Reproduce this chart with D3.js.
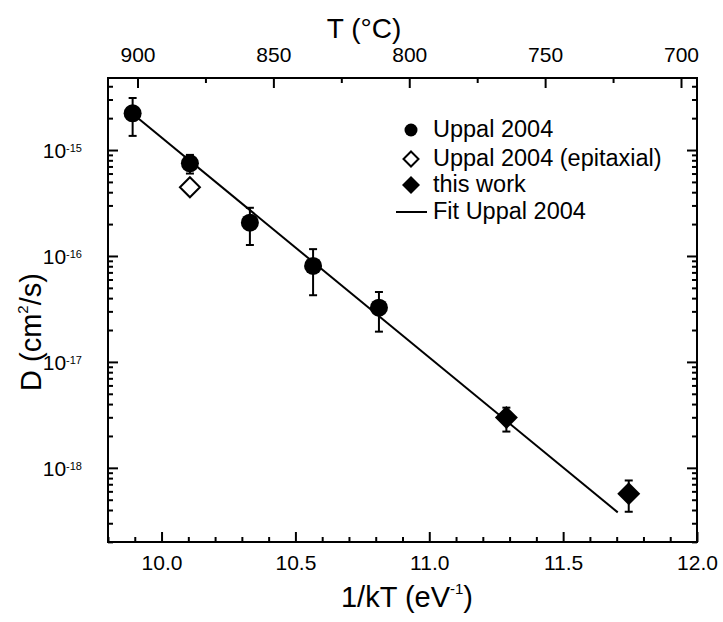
<!DOCTYPE html>
<html>
<head>
<meta charset="utf-8">
<script src="https://cdn.jsdelivr.net/npm/d3@7"></script>
<style>
  body { margin: 0; background: #fff; }
  svg text { font-family: "Liberation Sans", Arial, sans-serif; fill: #000; }
</style>
</head>
<body>
<div id="chart"></div>
<script>
// Uppal 2004 (filled circles), with error bars
const uppalX  = [9.892, 10.106, 10.33, 10.566, 10.812];
const uppalD  = [2.22e-15, 7.5e-16, 2.06e-16, 8.05e-17, 3.25e-17];
const uppalLo = [1.36e-15, 6.0e-16, 1.27e-16, 4.26e-17, 1.93e-17];
const uppalHi = [3.1e-15, 9.0e-16, 2.85e-16, 1.16e-16, 4.57e-17];

// Uppal 2004 epitaxial (open diamond)
const epiX = [10.106];
const epiD = [4.45e-16];

// this work (filled diamonds), with error bars
const workX  = [11.288, 11.745];
const workD  = [2.98e-18, 5.69e-19];
const workLo = [2.2e-18, 3.85e-19];
const workHi = [3.7e-18, 7.6e-19];

// fit of Uppal 2004
const fitX = [9.892, 11.704];
const fitD = [2.2e-15, 3.8e-19];

const xMajor = [10.0, 10.5, 11.0, 11.5, 12.0];
const yMajor = [1e-18, 1e-17, 1e-16, 1e-15];
const yExp = {"1e-18": -18, "1e-17": -17, "1e-16": -16, "1e-15": -15};
const tMajor = [900, 850, 800, 750, 700];
const tMinor = [875, 825, 775, 725];

const legendNames = ["Uppal 2004", "Uppal 2004 (epitaxial)", "this work", "Fit Uppal 2004"];

const width = 723, height = 622;
const plotLeft = 108, plotRight = 697, plotTop = 78, plotBottom = 542;

const svg = d3.select("#chart").append("svg")
    .attr("width", width)
    .attr("height", height);

const x = d3.scaleLinear().domain([9.8, 12.0]).range([plotLeft, plotRight]);
const y = d3.scaleLog().domain([Math.pow(10, -18.7), Math.pow(10, -14.32)]).range([plotBottom, plotTop]);
// the temperature axis on top is linear in T, as in the original
const t = d3.scaleLinear().domain([900, 700]).range([137.5, 681]);

// minor tick values
const xMinor = d3.range(98, 121).map(v => v / 10).filter(v => Math.abs(v * 2 - Math.round(v * 2)) > 1e-6);
const yMinor = [];
[-19, -18, -17, -16, -15].forEach(e => {
    for (let m = 2; m < 10; m++) {
        const v = m * Math.pow(10, e);
        if (v >= y.domain()[0] && v <= y.domain()[1]) yMinor.push(v);
    }
});

function styleAxis(g) {
    g.select(".domain").remove();
    g.selectAll(".tick line").attr("stroke", "#000").attr("stroke-width", 2);
}

// bottom axis
svg.append("g")
    .attr("transform", "translate(0," + plotBottom + ")")
    .call(d3.axisBottom(x).tickValues(xMinor).tickSize(-5).tickFormat(""))
    .call(styleAxis);
const gx = svg.append("g")
    .attr("transform", "translate(0," + plotBottom + ")")
    .call(d3.axisBottom(x).tickValues(xMajor).tickSize(-10).tickPadding(13).tickFormat(d3.format(".1f")))
    .call(styleAxis);
gx.selectAll(".tick text").attr("font-size", 21);

// top axis (temperature)
svg.append("g")
    .attr("transform", "translate(0," + plotTop + ")")
    .call(d3.axisTop(t).tickValues(tMinor).tickSize(-5).tickFormat(""))
    .call(styleAxis);
const gt = svg.append("g")
    .attr("transform", "translate(0," + plotTop + ")")
    .call(d3.axisTop(t).tickValues(tMajor).tickSize(-10).tickPadding(16).tickFormat(d3.format("d")))
    .call(styleAxis);
gt.selectAll(".tick text").attr("font-size", 21);

// left axis
svg.append("g")
    .attr("transform", "translate(" + plotLeft + ",0)")
    .call(d3.axisLeft(y).tickValues(yMinor).tickSize(-5).tickFormat(""))
    .call(styleAxis);
const gy = svg.append("g")
    .attr("transform", "translate(" + plotLeft + ",0)")
    .call(d3.axisLeft(y).tickValues(yMajor).tickSize(-10).tickPadding(26).tickFormat(""))
    .call(styleAxis);
gy.selectAll(".tick text").each(function(d) {
    const txt = d3.select(this)
        .attr("font-size", 21)
        .attr("dy", "0.36em");
    txt.append("tspan").text("10");
    txt.append("tspan").attr("font-size", 11).attr("dy", "-0.55em").text("-" + (-yExp[String(d)]));
});

// right axis
svg.append("g")
    .attr("transform", "translate(" + plotRight + ",0)")
    .call(d3.axisRight(y).tickValues(yMinor).tickSize(-5).tickFormat(""))
    .call(styleAxis);
svg.append("g")
    .attr("transform", "translate(" + plotRight + ",0)")
    .call(d3.axisRight(y).tickValues(yMajor).tickSize(-10).tickFormat(""))
    .call(styleAxis);

// frame
svg.append("rect")
    .attr("x", plotLeft).attr("y", plotTop)
    .attr("width", plotRight - plotLeft).attr("height", plotBottom - plotTop)
    .attr("fill", "none").attr("stroke", "#000").attr("stroke-width", 2);

// axis titles
svg.append("text")
    .attr("x", 364).attr("y", 38)
    .attr("text-anchor", "middle")
    .attr("font-size", 28)
    .text("T (°C)");

const xt = svg.append("text")
    .attr("x", 407).attr("y", 607)
    .attr("text-anchor", "middle")
    .attr("font-size", 29);
xt.append("tspan").text("1/kT (eV");
xt.append("tspan").attr("font-size", 15).attr("dy", "-0.9em").text("-1");
xt.append("tspan").attr("dy", "0.47em").text(")");

const yt = svg.append("text")
    .attr("transform", "translate(41,332) rotate(-90)")
    .attr("text-anchor", "middle")
    .attr("font-size", 29);
yt.append("tspan").text("D (cm");
yt.append("tspan").attr("font-size", 15).attr("dy", "-0.9em").text("2");
yt.append("tspan").attr("dy", "0.47em").text("/s)");

// fit line
const fitData = fitX.map((v, i) => [v, fitD[i]]);
svg.append("path")
    .attr("d", d3.line().x(d => x(d[0])).y(d => y(d[1]))(fitData))
    .attr("fill", "none").attr("stroke", "#000").attr("stroke-width", 2);

// error bars
function errorBars(xs, lo, hi) {
    xs.forEach((v, i) => {
        const g = svg.append("g").attr("stroke", "#000").attr("stroke-width", 2);
        g.append("line").attr("x1", x(v)).attr("x2", x(v)).attr("y1", y(lo[i])).attr("y2", y(hi[i]));
        g.append("line").attr("x1", x(v) - 4).attr("x2", x(v) + 4).attr("y1", y(lo[i])).attr("y2", y(lo[i]));
        g.append("line").attr("x1", x(v) - 4).attr("x2", x(v) + 4).attr("y1", y(hi[i])).attr("y2", y(hi[i]));
    });
}
errorBars(uppalX, uppalLo, uppalHi);
errorBars(workX, workLo, workHi);

function diamond(cx, cy, h) {
    return "M" + cx + "," + (cy - h) + "L" + (cx + h) + "," + cy + "L" + cx + "," + (cy + h) + "L" + (cx - h) + "," + cy + "Z";
}

// markers
uppalX.forEach((v, i) => {
    svg.append("circle").attr("cx", x(v)).attr("cy", y(uppalD[i])).attr("r", 9).attr("fill", "#000");
});
epiX.forEach((v, i) => {
    svg.append("path").attr("d", diamond(x(v), y(epiD[i]), 10))
        .attr("fill", "#fff").attr("stroke", "#000").attr("stroke-width", 2);
});
workX.forEach((v, i) => {
    svg.append("path").attr("d", diamond(x(v), y(workD[i]), 11.5)).attr("fill", "#000");
});

// legend
const lgX = 411, lgY = [130, 159, 185, 212];
svg.append("circle").attr("cx", lgX).attr("cy", lgY[0]).attr("r", 6.5).attr("fill", "#000");
svg.append("path").attr("d", diamond(lgX, lgY[1], 7.5))
    .attr("fill", "#fff").attr("stroke", "#000").attr("stroke-width", 2);
svg.append("path").attr("d", diamond(lgX, lgY[2], 9)).attr("fill", "#000");
svg.append("line").attr("x1", 396).attr("x2", 427).attr("y1", lgY[3]).attr("y2", lgY[3])
    .attr("stroke", "#000").attr("stroke-width", 2);
legendNames.forEach((name, i) => {
    svg.append("text")
        .attr("x", 433).attr("y", lgY[i] + 7)
        .attr("font-size", 23.5)
        .text(name);
});
</script>
</body>
</html>
